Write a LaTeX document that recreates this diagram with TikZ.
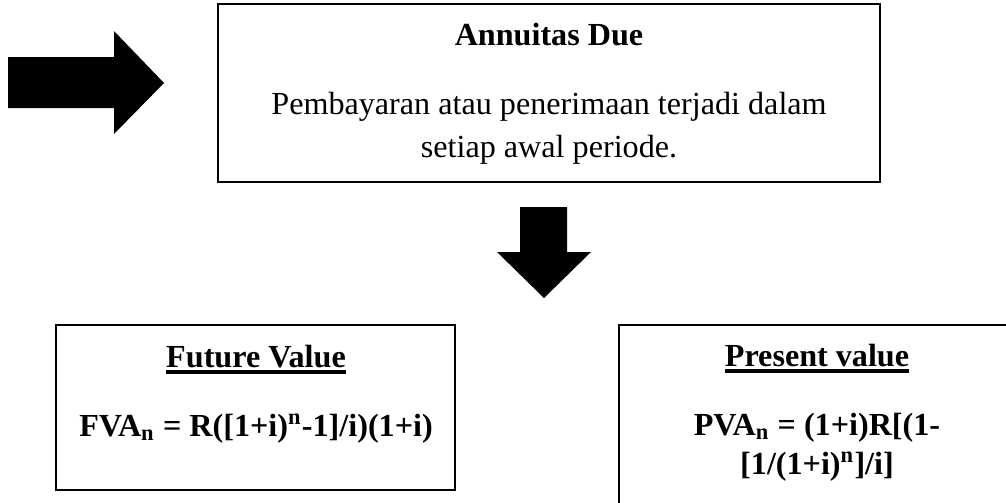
\documentclass[tikz,border=0pt]{standalone}
\usepackage{fontspec}
\setmainfont{Liberation Serif}
\usetikzlibrary{positioning,fit}

\newcommand{\thickul}[1]{\setbox0\hbox{#1}\rlap{\rule[-2.8pt]{\wd0}{1.5pt}}\box0}

\tikzset{
  box/.style={draw, line width=1.1pt, inner sep=0pt},
  txt/.style={font=\fontsize{12.25pt}{14pt}\selectfont, inner sep=0pt, anchor=base},
  boldtxt/.style={txt, font=\fontsize{12.25pt}{14pt}\selectfont\bfseries},
  blockarrow/.style={fill=black}
}

\begin{document}
\begin{tikzpicture}[x=0.381pt, y=-0.381pt]
  \useasboundingbox (0,0) rectangle (1006,502);
  \clip (0,0) rectangle (1006,502);

  % arrow into the top box
  \fill[blockarrow] (8,57) -- (114,57) -- (114,31) -- (164,83) -- (114,134) -- (114,108) -- (8,108) -- cycle;

  % top box
  \node[box, fit={(218,4) (880,182)}] (due) {};
  \node[boldtxt] (title) at (549,45) {Annuitas Due};
  \node[txt] (body1) at (549,114) {Pembayaran atau penerimaan terjadi dalam};
  \node[txt] (body2) at (549,157) {setiap awal periode.};

  % arrow down
  \fill[blockarrow] (520,207) -- (567,207) -- (567,252) -- (591,252) -- (544,298) -- (497,252) -- (520,252) -- cycle;

  % future value
  \node[box, fit={(56,325) (455,490)}] (fv) {};
  \node[boldtxt] (fvhead) at (256,367) {\thickul{Future Value}};
  \node[boldtxt] (fvform) at (256,436) {FVA\textsubscript{n} = R([1+i)\textsuperscript{n}-1]/i)(1+i)};

  % present value (runs off the page)
  \node[box, fit={(619,325) (1015,510)}] (pv) {};
  \node[boldtxt] (pvhead) at (817,366) {\thickul{Present value}};
  \node[boldtxt] (pvform1) at (817,435) {PVA\textsubscript{n} = (1+i)R[(1-};
  \node[boldtxt] (pvform2) at (817,474) {[1/(1+i)\textsuperscript{n}]/i]};
\end{tikzpicture}
\end{document}
